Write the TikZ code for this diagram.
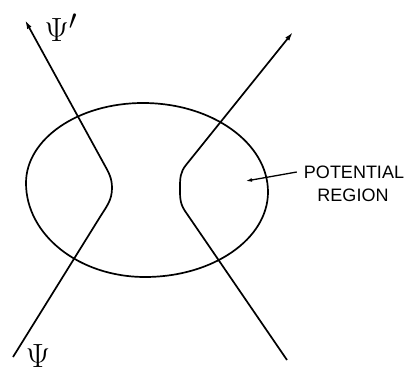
\documentclass[tikz,border=0pt]{standalone}
\usepackage{graphicx}
\usepackage{fontspec}
\newfontfamily\labfont{Liberation Sans}
\usetikzlibrary{arrows.meta}
\begin{document}
\begin{tikzpicture}[x=1pt,y=1pt,
  curve/.style={line width=1.7pt,line join=round},
  traj/.style={curve,-{Latex[length=9pt,width=5pt]}},
  lbl/.style={font=\labfont\fontsize{18}{18}\selectfont,inner sep=0pt},
  psi/.style={font=\Huge,inner sep=0pt}]
\useasboundingbox (0,0) rectangle (413,373);
% potential region
\draw[curve] (26,190) .. controls (26,234) and (78,270) .. (143,270)
  .. controls (212,270) and (268,230) .. (268,181)
  .. controls (268,134) and (213,96) .. (145,96)
  .. controls (79,96) and (26,138) .. (26,190) -- cycle;
% trajectories
\coordinate (lin) at (13,16);
\coordinate (lout) at (25,353);
\coordinate (rin) at (287,13);
\coordinate (rout) at (293,341);
\draw[traj] (lin) -- (100,156) to[out=58,in=-90] (112,185)
  to[out=90,in=-61] (104,209) -- (lout);
\draw[traj] (rin) -- (185,162) to[out=124,in=-90] (180,186)
  to[out=90,in=-129] (186,208) -- (rout);
% labels
\node[psi] (psip) at (61,345) {\scalebox{1.35}{$\Psi'$}};
\node[psi,anchor=base] (psi) at (38,6) {\scalebox{1.35}{$\Psi$}};
\node[lbl] (pot) at (354,201) {POTENTIAL};
\node[lbl] (reg) at (353,178) {REGION};
\coordinate (tip) at (246,192);
\draw[line width=1.3pt,-{Latex[length=6pt,width=4pt]}] ([xshift=-7pt]pot.west) -- (tip);
\end{tikzpicture}
\end{document}
